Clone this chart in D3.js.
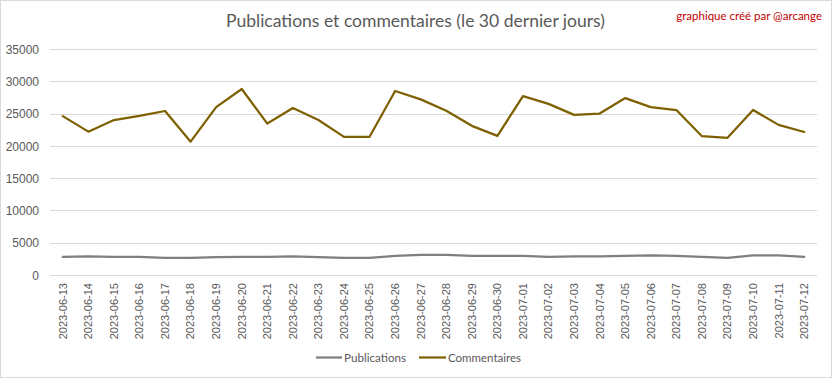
<!DOCTYPE html>
<html><head><meta charset="utf-8">
<script src="https://cdn.jsdelivr.net/npm/d3@7"></script>
<style>body{margin:0;background:#fff;}svg{display:block;font-family:Lato,"Open Sans",sans-serif;}</style>
</head><body><svg id="c" width="832" height="378"></svg>
<script>
const dates = ["2023-06-13","2023-06-14","2023-06-15","2023-06-16","2023-06-17","2023-06-18","2023-06-19","2023-06-20","2023-06-21","2023-06-22","2023-06-23","2023-06-24","2023-06-25","2023-06-26","2023-06-27","2023-06-28","2023-06-29","2023-06-30","2023-07-01","2023-07-02","2023-07-03","2023-07-04","2023-07-05","2023-07-06","2023-07-07","2023-07-08","2023-07-09","2023-07-10","2023-07-11","2023-07-12"];
const publications = [2800,2900,2800,2800,2650,2650,2750,2800,2800,2900,2750,2650,2650,2950,3100,3100,2950,2950,2950,2800,2900,2900,2950,3050,2950,2800,2650,3050,3050,2800];
const commentaires = [24600,22200,24000,24650,25400,20650,26000,28800,23450,25850,24000,21400,21400,28500,27200,25450,23100,21550,27700,26500,24800,25000,27400,26000,25550,21500,21250,25550,23250,22150];
const yTicks = [0,5000,10000,15000,20000,25000,30000,35000];
const titleText = "Publications et commentaires (le 30 dernier jours)";
const creditText = "graphique créé par @arcange";
const seriesNames = ["Publications","Commentaires"];
const seriesColors = ["#7f7f7f","#7f6000"];

const svg = d3.select("#c");
svg.append("rect").attr("x",0.5).attr("y",0.5).attr("width",831).attr("height",377)
  .attr("fill","#fff").attr("stroke","#d9d9d9");

const x = d3.scaleBand().domain(dates).range([50,817]);
const y = d3.scaleLinear().domain([0,35000]).range([275,49]);

// gridlines
svg.append("g").selectAll("line").data(yTicks).join("line")
  .attr("x1",50).attr("x2",817)
  .attr("y1",d=>Math.round(y(d))+0.5).attr("y2",d=>Math.round(y(d))+0.5)
  .attr("stroke","#d9d9d9").attr("stroke-width",1);

// y axis labels
const yAxis = d3.axisLeft(y).tickValues(yTicks).tickSize(0).tickPadding(0).tickFormat(d3.format("d"));
const ya = svg.append("g").attr("transform","translate(39,0)").call(yAxis);
ya.select(".domain").remove();
ya.selectAll("text").attr("fill","#595959").attr("font-size","12px").attr("dy","0.35em");

// x axis labels
const xAxis = d3.axisBottom(x).tickSize(0).tickPadding(0);
const xa = svg.append("g").attr("transform","translate(0,275)").call(xAxis);
xa.select(".domain").remove();
xa.selectAll("text").attr("fill","#595959").attr("font-size","11px")
  .attr("text-anchor","end").attr("dy","0.35em").attr("dx",0).attr("y",0)
  .attr("transform","translate(0,8) rotate(-90)");

// lines
const line = d3.line().x((d,i)=>x(dates[i])+x.bandwidth()/2).y(d=>y(d));
[publications,commentaires].forEach((s,k)=>{
  svg.append("path").attr("d",line(s)).attr("fill","none")
    .attr("stroke",seriesColors[k]).attr("stroke-width",2.25)
    .attr("stroke-linejoin","round").attr("stroke-linecap","round");
});

// title
svg.append("text").attr("x",415.5).attr("y",27).attr("text-anchor","middle")
  .attr("font-size","18px").attr("fill","#595959")
  .attr("textLength",379).attr("lengthAdjust","spacingAndGlyphs").text(titleText);
svg.append("text").attr("x",822).attr("y",20).attr("text-anchor","end")
  .attr("font-size","11.5px").attr("fill","#c00000").text(creditText);

// legend
const leg = [{x1:316,x2:342,tx:344,tw:62},{x1:419,x2:446,tx:448,tw:73}];
leg.forEach((l,k)=>{
  svg.append("line").attr("x1",l.x1).attr("x2",l.x2).attr("y1",357.5).attr("y2",357.5)
    .attr("stroke",seriesColors[k]).attr("stroke-width",2.25);
  svg.append("text").attr("x",l.tx).attr("y",361.5).attr("font-size","12px").attr("fill","#595959")
    .attr("textLength",l.tw).attr("lengthAdjust","spacingAndGlyphs").text(seriesNames[k]);
});
</script></body></html>
